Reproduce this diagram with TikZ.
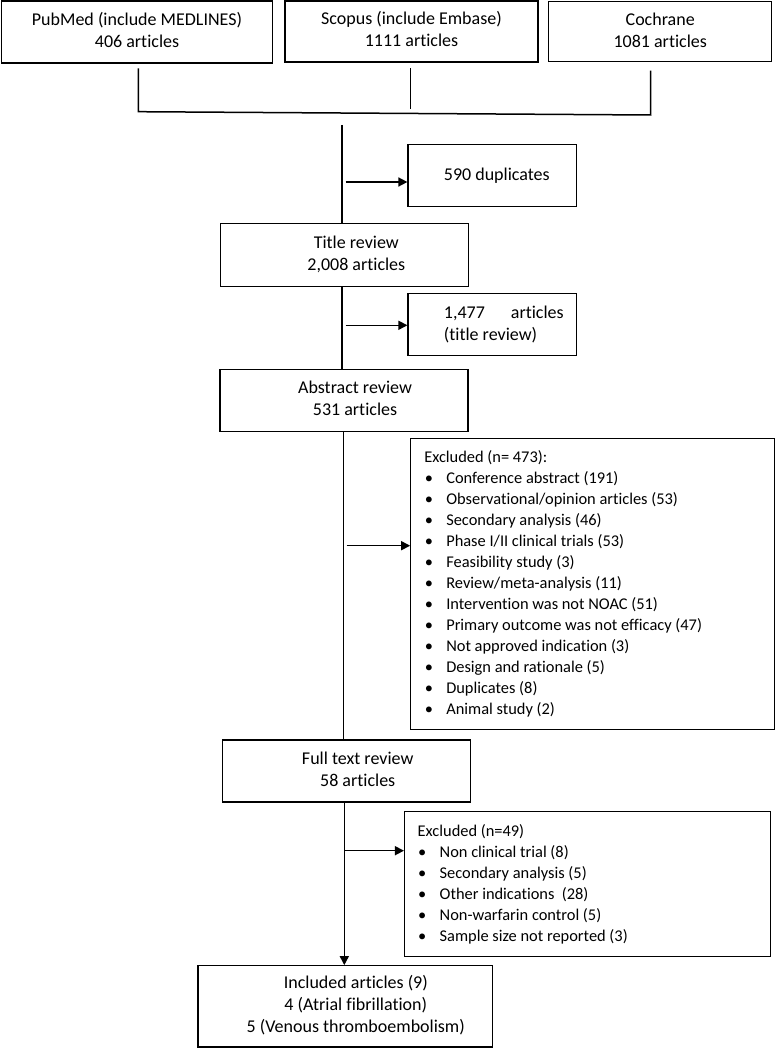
\documentclass[tikz,border=0pt]{standalone}
\usepackage{fontspec}
\setmainfont{Carlito}[Ligatures={NoCommon}]
\usetikzlibrary{arrows.meta}
\newcommand{\bitem}[1]{\makebox[22pt][l]{\hspace{0.5pt}•}#1}
\newcommand{\shifted}[2]{\spaceskip=0pt\xspaceskip=0pt\hspace*{#1}\begin{tabular}{@{}c@{}}#2\end{tabular}}
\newcommand{\nsp}{\spaceskip=0pt\xspaceskip=0pt\relax}
\begin{document}
\begin{tikzpicture}[x=1pt,y=-1pt,
  box/.style={draw, line width=1.1pt, inner sep=0pt, align=center, font=\fontsize{18}{22}\selectfont},
  listbox/.style={draw, line width=1.1pt, inner ysep=0pt, align=left, font=\fontsize{16.4}{21}\selectfont},
  conn/.style={line width=1.5pt},
  arr/.style={conn, -{Triangle[length=9pt,width=9pt]}},
]
\useasboundingbox (0,0) rectangle (775,1048);

% sources
\node[box, minimum width=270.6pt, minimum height=62pt] (pub) at (137,32) {\shifted{0pt}{PubMed (include MEDLINES)\\406 articles}};
\node[box, minimum width=253pt, minimum height=61pt] (scop) at (411.5,31.5) {\shifted{0pt}{Scopus (include Embase)\\1111 articles}};
\node[box, minimum width=223pt, minimum height=60pt] (coch) at (660.2,31.7) {\shifted{0pt}{Cochrane\\1081 articles}};

% main flow
\node[box, minimum width=168.7pt, minimum height=62.4pt] (dup) at (492.3,175.5) {\nsp\hspace*{9pt}590 duplicates};
\node[box, minimum width=248pt, minimum height=62.7pt] (title) at (344.8,255.3) {\shifted{23pt}{Title review\\2,008 articles}};
\node[box, minimum width=168.7pt, minimum height=62pt] (tex) at (492.3,324.3) {\nsp\hspace*{23pt}\parbox{119.7pt}{\raggedright 1,477\hfill articles\\(title review)}};
\node[box, minimum width=248pt, minimum height=62.4pt] (abs) at (344,400.5) {\shifted{22pt}{Abstract review\\531 articles}};
\node[listbox, inner xsep=13.6pt, text width=336.4pt, minimum height=290.7pt] (ex1) at (592.5,583.7) {\nsp Excluded (n= 473):\\
\bitem{Conference abstract (191)}\\
\bitem{Observational/opinion articles (53)}\\
\bitem{Secondary analysis (46)}\\
\bitem{Phase I/II clinical trials (53)}\\
\bitem{Feasibility study (3)}\\
\bitem{Review/meta-analysis (11)}\\
\bitem{Intervention was not NOAC (51)}\\
\bitem{Primary outcome was not efficacy (47)}\\
\bitem{Not approved indication (3)}\\
\bitem{Design and rationale (5)}\\
\bitem{Duplicates (8)}\\
\bitem{Animal study (2)}};
\node[box, minimum width=248pt, minimum height=62pt] (full) at (346.7,771) {\shifted{22pt}{Full text review\\58 articles}};
\node[listbox, inner xsep=13.2pt, text width=339.4pt, minimum height=145.7pt] (ex2) at (587.4,883.9) {\nsp Excluded (n=49)\\
\bitem{Non clinical trial (8)}\\
\bitem{Secondary analysis (5)}\\
\bitem{Other indications\ \ (28)}\\
\bitem{Non-warfarin control (5)}\\
\bitem{Sample size not reported (3)}};
\node[box, minimum width=294.7pt, minimum height=81.3pt] (incl) at (345.3,1006.3) {\shifted{21pt}{Included articles (9)\\4 (Atrial fibrillation)\\5 (Venous thromboembolism)}};

% bracket joining the sources
\coordinate (b1) at (138.3,68.3);
\coordinate (bl) at (138.3,111.7);
\coordinate (br) at (650.7,115);
\coordinate (b3) at (650.7,70.7);
\coordinate (m1) at (410.7,68.3);
\coordinate (m2) at (410.7,109.3);
\draw[conn] (b1) -- (bl) -- (br) -- (b3);
\draw[conn] (m1) -- (m2);

% spine
\coordinate (sp0) at (342,125);
\draw[conn] (sp0) -- (sp0 |- title.north);
\draw[conn] (title.south -| sp0) -- (abs.north -| sp0);
\coordinate (sp2) at (343.3,0);
\draw[conn] (abs.south -| sp2) -- (full.north -| sp2);
\coordinate (sp3) at (344.3,0);
\draw[arr] (full.south -| sp3) -- (incl.north -| sp3);

% side arrows
\coordinate (s1) at (345.7,182);
\draw[arr] (s1) -- (s1 -| dup.west);
\coordinate (s2) at (345.7,325.3);
\draw[arr] (s2) -- (s2 -| tex.west);
\coordinate (s3) at (346.7,545.7);
\draw[arr] (s3) -- (s3 -| ex1.west);
\coordinate (s4) at (344.3,850.7);
\draw[arr] (s4) -- (s4 -| ex2.west);
\end{tikzpicture}
\end{document}
